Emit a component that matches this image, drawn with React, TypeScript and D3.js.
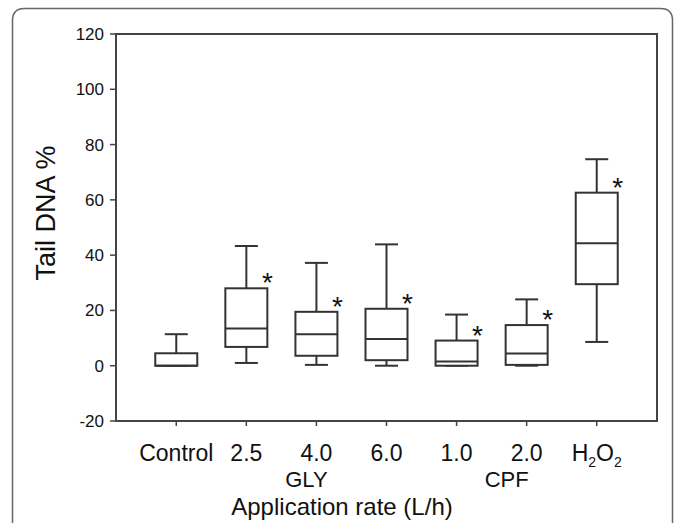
import React, { useRef, useEffect } from "react";
import * as d3 from "d3";

// box stats (Tail DNA %)
const categories = ["Control", "2.5", "4.0", "6.0", "1.0", "2.0", "H2O2"];
const whiskerLow = [0, 1.0, 0.3, 0, 0, 0, 8.6];
const q1 = [0, 6.8, 3.6, 2.0, 0, 0.3, 29.5];
const median = [0, 13.5, 11.4, 9.7, 1.5, 4.4, 44.3];
const q3 = [4.5, 28.0, 19.5, 20.6, 9.1, 14.7, 62.6];
const whiskerHigh = [11.4, 43.3, 37.2, 43.9, 18.5, 24.0, 74.7];
const significant = [false, true, true, true, true, true, true];
const yTicks = [-20, 0, 20, 40, 60, 80, 100, 120];
const groupLabels = [
  { text: "GLY", at: "4.0", dx: -10 },
  { text: "CPF", at: "2.0", dx: -20 },
];

export default function App() {
  const svgRef = useRef<SVGSVGElement>(null);

  useEffect(() => {
    const svg = d3.select(svgRef.current);
    svg.selectAll("*").remove();

    const width = 677;
    const height = 523;
    const left = 116, right = 657, top = 34, bottom = 421;
    const font = "Liberation Sans, Arial, sans-serif";

    // outer rounded frame, open at the bottom
    const r = 12;
    svg.append("path")
      .attr("d", `M12.5,${height + 5} V${8.5 + r} Q12.5,8.5 ${12.5 + r},8.5 H${672.5 - r} Q672.5,8.5 672.5,${8.5 + r} V${height + 5}`)
      .attr("fill", "none")
      .attr("stroke", "#666")
      .attr("stroke-width", 1.5);

    const y = d3.scaleLinear().domain([-20, 120]).range([bottom, top]);
    const x = d3.scalePoint<string>().domain(categories).range([left, right]).padding(0.86);

    const rows = categories.map((c, i) => ({
      c, lo: whiskerLow[i], q1: q1[i], med: median[i], q3: q3[i], hi: whiskerHigh[i], sig: significant[i],
    }));

    const ink = "#333";

    // plot frame
    svg.append("rect")
      .attr("x", left).attr("y", top)
      .attr("width", right - left).attr("height", bottom - top)
      .attr("fill", "none").attr("stroke", "#444").attr("stroke-width", 2);

    // y axis ticks + labels
    const ya = svg.append("g").attr("font-family", font);
    ya.selectAll("line").data(yTicks).join("line")
      .attr("x1", left - 6).attr("x2", left)
      .attr("y1", (d) => y(d)).attr("y2", (d) => y(d))
      .attr("stroke", "#444").attr("stroke-width", 1.5);
    ya.selectAll("text").data(yTicks).join("text")
      .attr("x", left - 12).attr("y", (d) => y(d))
      .attr("dy", "0.35em")
      .attr("text-anchor", "end")
      .attr("font-size", 17)
      .attr("fill", "#111")
      .text((d) => d);

    // x axis ticks + labels
    const xa = svg.append("g").attr("font-family", font);
    xa.selectAll("line").data(categories).join("line")
      .attr("x1", (d) => x(d)!).attr("x2", (d) => x(d)!)
      .attr("y1", bottom).attr("y2", bottom + 5)
      .attr("stroke", "#444").attr("stroke-width", 1.5);
    const xl = xa.selectAll("text").data(categories).join("text")
      .attr("x", (d) => x(d)!).attr("y", bottom + 40)
      .attr("text-anchor", "middle")
      .attr("font-size", 23)
      .attr("fill", "#111");
    xl.each(function (d) {
      const t = d3.select(this);
      if (d === "H2O2") {
        t.append("tspan").text("H");
        t.append("tspan").text("2").attr("font-size", 14).attr("dy", 6);
        t.append("tspan").text("O").attr("dy", -6);
        t.append("tspan").text("2").attr("font-size", 14).attr("dy", 6);
      } else {
        t.text(d);
      }
    });

    svg.append("g").selectAll("text").data(groupLabels).join("text")
      .attr("x", (d) => x(d.at)! + d.dx).attr("y", bottom + 66)
      .attr("text-anchor", "middle")
      .attr("font-family", font).attr("font-size", 22).attr("fill", "#111")
      .text((d) => d.text);

    svg.append("text")
      .attr("x", 342).attr("y", bottom + 94)
      .attr("text-anchor", "middle")
      .attr("font-family", font).attr("font-size", 24).attr("fill", "#111")
      .text("Application rate (L/h)");

    svg.append("text")
      .attr("transform", `translate(55,213) rotate(-90)`)
      .attr("text-anchor", "middle")
      .attr("font-family", font).attr("font-size", 27).attr("fill", "#111")
      .text("Tail DNA %");

    // boxes
    const bw = 42, cap = 23;
    const g = svg.append("g").attr("stroke", ink).attr("stroke-width", 2).attr("fill", "none");
    const box = g.selectAll("g").data(rows).join("g")
      .attr("transform", (d) => `translate(${x(d.c)},0)`);

    box.append("line").attr("x1", 0).attr("x2", 0)
      .attr("y1", (d) => y(d.q3)).attr("y2", (d) => y(d.hi));
    box.append("line").attr("x1", 0).attr("x2", 0)
      .attr("y1", (d) => y(d.q1)).attr("y2", (d) => y(d.lo));
    box.append("line").attr("x1", -cap / 2).attr("x2", cap / 2)
      .attr("y1", (d) => y(d.hi)).attr("y2", (d) => y(d.hi));
    box.append("line").attr("x1", -cap / 2).attr("x2", cap / 2)
      .attr("y1", (d) => y(d.lo)).attr("y2", (d) => y(d.lo));
    box.append("rect")
      .attr("x", -bw / 2).attr("width", bw)
      .attr("y", (d) => y(d.q3))
      .attr("height", (d) => y(d.q1) - y(d.q3))
      .attr("fill", "#fff");
    box.append("line").attr("x1", -bw / 2).attr("x2", bw / 2)
      .attr("y1", (d) => y(d.med)).attr("y2", (d) => y(d.med));

    // significance stars
    box.filter((d) => d.sig).append("text")
      .attr("x", bw / 2).attr("y", (d) => y(d.q3) + 4)
      .attr("text-anchor", "middle")
      .attr("stroke", "none").attr("fill", "#111")
      .attr("font-family", font).attr("font-size", 28)
      .text("*");

    svg.attr("width", width).attr("height", height);
  }, []);

  return <svg ref={svgRef} style={{ position: "absolute", left: 0, top: 0 }} />;
}
